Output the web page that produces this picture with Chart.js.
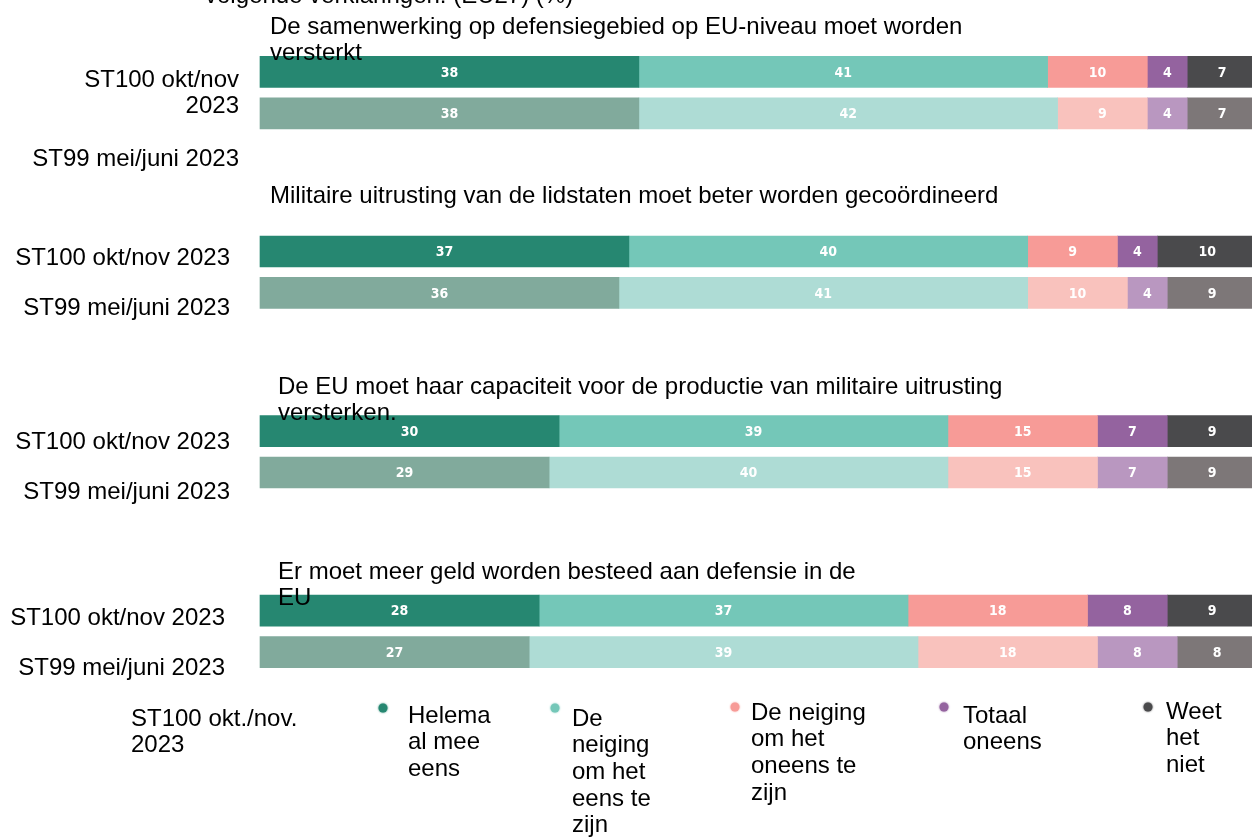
<!DOCTYPE html>
<html lang="nl">
<head>
<meta charset="utf-8">
<title>Defensie – EU27</title>
<script src="https://cdn.jsdelivr.net/npm/chart.js@4/dist/chart.umd.min.js"></script>
<style>
  html, body { margin: 0; padding: 0; background: #fff; overflow: hidden; }
  #wrap { position: relative; width: 1258px; height: 838px; }
</style>
</head>
<body>
<div id="wrap"><canvas id="chart" width="1258" height="838"></canvas></div>
<script>
// --- data (EU27, %), per bar: ST100 then ST99 for each statement ---
const statements = [
  "De samenwerking op defensiegebied op EU-niveau moet worden versterkt",
  "Militaire uitrusting van de lidstaten moet beter worden gecoördineerd",
  "De EU moet haar capaciteit voor de productie van militaire uitrusting versterken.",
  "Er moet meer geld worden besteed aan defensie in de EU"
];
const waves = ["ST100 okt/nov 2023", "ST99 mei/juni 2023"];
const answers = [
  "Helemaal mee eens",
  "De neiging om het eens te zijn",
  "De neiging om het oneens te zijn",
  "Totaal oneens",
  "Weet het niet"
];
const helemaalEens   = [38, 38, 37, 36, 30, 29, 28, 27];
const neigingEens    = [41, 42, 40, 41, 39, 40, 37, 39];
const neigingOneens  = [10, 9, 9, 10, 15, 15, 18, 18];
const totaalOneens   = [4, 4, 4, 4, 7, 7, 8, 8];
const weetNiet       = [7, 7, 10, 9, 9, 9, 9, 8];
const seriesValues = [helemaalEens, neigingEens, neigingOneens, totaalOneens, weetNiet];

// dark = ST100, light = ST99
const darkColors  = ["#268771", "#74c7b8", "#f79b97", "#94639f", "#4a4a4c"];
const lightColors = ["#81aa9c", "#aedcd5", "#f9c2bd", "#b997c0", "#7d7778"];

// each statement takes 13 rows on the category axis, the two waves sit 3 rows apart
const ROWS_PER_GROUP = 13;
const WAVE_GAP = 3;
const rowCount = (statements.length - 1) * ROWS_PER_GROUP + WAVE_GAP + 1;
const rows = Array.from({ length: rowCount }, (_, i) => "r" + i);

function spread(values) {
  const out = new Array(rowCount).fill(null);
  values.forEach((v, i) => {
    out[Math.floor(i / 2) * ROWS_PER_GROUP + (i % 2) * WAVE_GAP] = v;
  });
  return out;
}

const datasets = seriesValues.map((vals, s) => ({
  label: answers[s],
  data: spread(vals),
  backgroundColor: ctx => (ctx.dataIndex % ROWS_PER_GROUP === 0 ? darkColors[s] : lightColors[s]),
  borderWidth: 0,
  barThickness: 31,
  clip: false
}));

// text blocks around the bars
const FONT = '24px "Liberation Sans", Arial, sans-serif';
const headings = [
  { x: 205, y: -4, lines: ["volgende verklaringen: (EU27) (%)"] },
  { x: 270, y: 27, lines: ["De samenwerking op defensiegebied op EU-niveau moet worden", "versterkt"] },
  { x: 270, y: 196, lines: ["Militaire uitrusting van de lidstaten moet beter worden gecoördineerd"] },
  { x: 278, y: 387, lines: ["De EU moet haar capaciteit voor de productie van militaire uitrusting", "versterken."] },
  { x: 278, y: 572, lines: ["Er moet meer geld worden besteed aan defensie in de", "EU"] }
];
const waveLabels = [
  { x: 239, y: 80, lines: ["ST100 okt/nov", "2023"] },
  { x: 239, y: 159, lines: [waves[1]] },
  { x: 230, y: 258, lines: [waves[0]] },
  { x: 230, y: 308, lines: [waves[1]] },
  { x: 230, y: 442, lines: [waves[0]] },
  { x: 230, y: 492, lines: [waves[1]] },
  { x: 225, y: 618, lines: [waves[0]] },
  { x: 225, y: 668, lines: [waves[1]] }
];
const legendTitle = { x: 131, y: 719, lines: ["ST100 okt./nov.", "2023"] };
const legendItems = [
  { dot: [383, 708], x: 408, y: 716, lines: ["Helema", "al mee", "eens"] },
  { dot: [555, 708], x: 572, y: 719, lines: ["De", "neiging", "om het", "eens te", "zijn"] },
  { dot: [735, 707], x: 751, y: 713, lines: ["De neiging", "om het", "oneens te", "zijn"] },
  { dot: [944, 707], x: 963, y: 716, lines: ["Totaal", "oneens"] },
  { dot: [1148, 707], x: 1166, y: 712, lines: ["Weet", "het", "niet"] }
];
const LINE_H = 26.7;

function drawBlock(ctx, b, align) {
  ctx.textAlign = align;
  b.lines.forEach((t, i) => ctx.fillText(t, b.x, b.y + i * LINE_H));
}

const segmentLabels = {
  id: "segmentLabels",
  afterDatasetsDraw(chart) {
    const ctx = chart.ctx;
    ctx.save();
    ctx.fillStyle = "#fff";
    ctx.font = 'bold 14px "Liberation Sans Narrow", "DejaVu Sans Condensed", "Liberation Sans", sans-serif';
    ctx.textAlign = "center";
    ctx.textBaseline = "middle";
    chart.data.datasets.forEach((ds, di) => {
      chart.getDatasetMeta(di).data.forEach((bar, i) => {
        if (ds.data[i] == null) return;
        ctx.fillText(String(ds.data[i]), (bar.x + bar.base) / 2, bar.y + 1);
      });
    });
    ctx.restore();
  }
};

const textLayer = {
  id: "textLayer",
  afterDraw(chart) {
    const ctx = chart.ctx;
    ctx.save();
    ctx.fillStyle = "#000";
    ctx.font = FONT;
    ctx.textBaseline = "middle";
    headings.forEach(b => drawBlock(ctx, b, "left"));
    waveLabels.forEach(b => drawBlock(ctx, b, "right"));
    drawBlock(ctx, legendTitle, "left");
    legendItems.forEach((item, s) => {
      ctx.save();
      ctx.fillStyle = darkColors[s];
      ctx.shadowColor = darkColors[s];
      ctx.shadowBlur = 2;
      ctx.beginPath();
      ctx.arc(item.dot[0], item.dot[1], 4.5, 0, Math.PI * 2);
      ctx.fill();
      ctx.restore();
      drawBlock(ctx, item, "left");
    });
    ctx.restore();
  }
};

new Chart(document.getElementById("chart"), {
  type: "bar",
  data: { labels: rows, datasets },
  options: {
    indexAxis: "y",
    responsive: false,
    animation: false,
    layout: { padding: { left: 260, right: 1, top: 65, bottom: 179 } },
    scales: {
      x: { stacked: true, min: 0, max: 100, display: false },
      y: { stacked: true, display: false, offset: true }
    },
    plugins: {
      legend: { display: false },
      tooltip: { enabled: false }
    }
  },
  plugins: [segmentLabels, textLayer]
});
</script>
</body>
</html>
